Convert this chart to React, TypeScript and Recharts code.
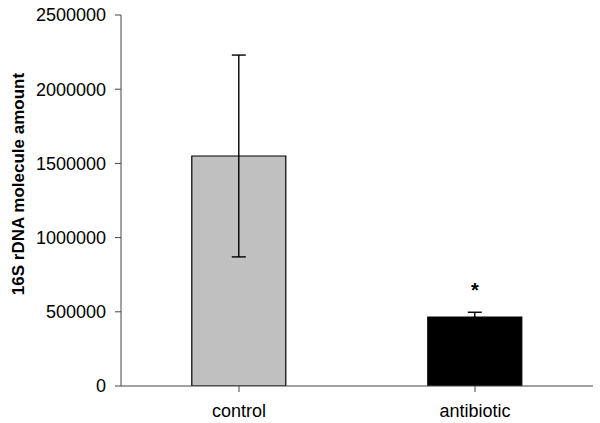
import {FC} from "react";
import {BarChart, Bar, XAxis, YAxis, ErrorBar, Cell, LabelList} from 'recharts';

const groups: string[] = ['control', 'antibiotic'];
const amounts: number[] = [1550000, 465000];
const errors: number[] = [680000, 32000];
const marks: string[] = ['', '*'];
const fills: string[] = ['#c0c0c0', '#000000'];
const yTicks: number[] = [0, 500000, 1000000, 1500000, 2000000, 2500000];

const font = '"Liberation Sans", Arial, sans-serif';

const AxisTitle = () => (
    <text x={24} y={184} transform="rotate(-90, 24, 184)" textAnchor="middle"
          fontFamily={font} fontSize={17} fontWeight="bold" fill="#000">
        16S rDNA molecule amount
    </text>
);

const App: FC = () => {
    const data = groups.map((name, i) => ({
        name,
        value: amounts[i],
        err: errors[i],
        mark: marks[i],
    }));

    return (
        <div style={{position: 'absolute', left: 0, top: 0, background: '#fff'}}>
            <BarChart width={600} height={423} data={data} barCategoryGap="30%"
                      margin={{top: 15, right: 7, bottom: 0, left: 0}}>
                <XAxis dataKey="name" height={37} stroke="#444" tickSize={6} tickMargin={12}
                       tick={{fill: '#000', fontSize: 18, fontFamily: font}}/>
                <YAxis width={121} domain={[0, 2500000]} ticks={yTicks} interval={0} stroke="#444"
                       tickSize={6} tickMargin={9} allowDataOverflow
                       tick={{fill: '#000', fontSize: 18, fontFamily: font}}
                       label={{content: () => <AxisTitle/>}}/>
                <Bar dataKey="value" stroke="#000" strokeWidth={1.2} isAnimationActive={false}>
                    {data.map((d, i) => <Cell key={d.name} fill={fills[i]}/>)}
                    <ErrorBar dataKey="err" width={7} stroke="#000" strokeWidth={1.4}/>
                    <LabelList dataKey="mark" position="top" offset={20}
                               style={{fill: '#000', fontSize: 20, fontWeight: 'bold', fontFamily: font}}/>
                </Bar>
            </BarChart>
        </div>
    );
};

export default App;
